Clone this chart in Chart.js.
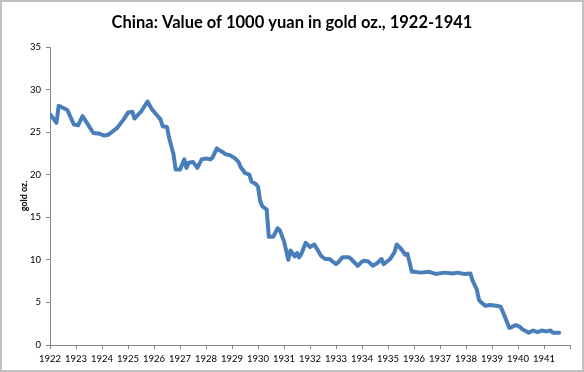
<!DOCTYPE html>
<html>
<head>
<meta charset="utf-8">
<title>China: Value of 1000 yuan in gold oz., 1922-1941</title>
<script src="https://cdn.jsdelivr.net/npm/chart.js@4/dist/chart.umd.min.js"></script>
<style>
    html, body { margin: 0; padding: 0; background: #fff; }
    #wrap { width: 584px; height: 372px; position: relative; }
</style>
</head>
<body>
<div id="wrap"><canvas id="goldChart" width="584" height="372"></canvas></div>
<script>
// Chart data
const chartTitle = "China: Value of 1000 yuan in gold oz., 1922-1941";
const yAxisTitle = "gold oz.";
const yearLabels = [1922, 1923, 1924, 1925, 1926, 1927, 1928, 1929, 1930, 1931,
    1932, 1933, 1934, 1935, 1936, 1937, 1938, 1939, 1940, 1941];
const yTicks = [0, 5, 10, 15, 20, 25, 30, 35];

const months = [
    "1922-01", "1922-04", "1922-05", "1922-09", "1922-12", "1923-02", "1923-04", "1923-05", "1923-09", "1923-12",
    "1924-02", "1924-04", "1924-06", "1924-08", "1924-11", "1925-01", "1925-03", "1925-04", "1925-07", "1925-08",
    "1925-10", "1925-12", "1926-02", "1926-04", "1926-05", "1926-07", "1926-08", "1926-10", "1926-11", "1927-01",
    "1927-03", "1927-04", "1927-05", "1927-07", "1927-09", "1927-11", "1928-01", "1928-03", "1928-04", "1928-06",
    "1928-07", "1928-09", "1928-10", "1928-12", "1929-02", "1929-04", "1929-05", "1929-07", "1929-09", "1929-10",
    "1929-12", "1930-01", "1930-02", "1930-03", "1930-05", "1930-06", "1930-08", "1930-10", "1930-11", "1931-01",
    "1931-03", "1931-04", "1931-06", "1931-07", "1931-08", "1931-09", "1931-11", "1932-01", "1932-03", "1932-04",
    "1932-06", "1932-08", "1932-10", "1933-01", "1933-02", "1933-04", "1933-07", "1933-08", "1933-11", "1934-01",
    "1934-02", "1934-04", "1934-06", "1934-08", "1934-10", "1934-11", "1935-02", "1935-04", "1935-05", "1935-07",
    "1935-09", "1935-10", "1935-12", "1936-01", "1936-04", "1936-08", "1936-11", "1937-03", "1937-07", "1937-09",
    "1937-12", "1938-03", "1938-04", "1938-06", "1938-07", "1938-08", "1938-10", "1938-12", "1939-03", "1939-05",
    "1939-07", "1939-09", "1939-10", "1939-12", "1940-02", "1940-03", "1940-06", "1940-08", "1940-10", "1940-12",
    "1941-02", "1941-04", "1941-05", "1941-08"
];

const goldOz = [
    27.1, 26.1, 28.1, 27.6, 25.9, 25.8, 26.9, 26.5, 24.9, 24.8,
    24.6, 24.7, 25.1, 25.5, 26.5, 27.3, 27.4, 26.6, 27.4, 27.8,
    28.6, 27.7, 27.1, 26.5, 25.7, 25.6, 24.3, 22.4, 20.6, 20.6,
    21.8, 20.8, 21.4, 21.5, 20.8, 21.8, 21.9, 21.8, 22.0, 23.1,
    22.9, 22.6, 22.4, 22.3, 22.0, 21.5, 20.9, 20.2, 20.0, 19.2,
    18.9, 18.6, 16.9, 16.3, 15.9, 12.7, 12.7, 13.7, 13.5, 12.2,
    10.0, 11.1, 10.4, 10.8, 10.3, 10.7, 12.0, 11.5, 11.8, 11.4,
    10.5, 10.1, 10.1, 9.5, 9.7, 10.3, 10.3, 10.1, 9.3, 9.8,
    9.9, 9.8, 9.3, 9.6, 10.1, 9.5, 10.1, 10.9, 11.8, 11.3,
    10.6, 10.7, 8.6, 8.6, 8.5, 8.6, 8.35, 8.5, 8.4, 8.5,
    8.35, 8.4, 7.6, 6.5, 5.3, 5.0, 4.6, 4.7, 4.6, 4.5,
    3.3, 2.0, 2.1, 2.35, 2.1, 1.85, 1.45, 1.7, 1.5, 1.7,
    1.6, 1.7, 1.45, 1.45
];

// "YYYY-MM" -> decimal year, so the x scale places each month
function monthToYear(m) {
    const parts = m.split("-");
    return Number(parts[0]) + (Number(parts[1]) - 1) / 12;
}

const points = months.map((m, i) => ({ x: monthToYear(m), y: goldOz[i] }));

const axisGray = "#868686";
const fontFamily = "Lato, 'Open Sans', sans-serif";
const tickFont = { family: fontFamily, size: 9.5 };

// Title centred on the whole picture + gray frame round it
const titleFramePlugin = {
    id: "titleFrame",
    afterDraw(chart) {
        const ctx = chart.ctx;
        ctx.save();
        ctx.fillStyle = "#000";
        ctx.font = "bold 16.5px " + fontFamily;
        ctx.textAlign = "center";
        ctx.textBaseline = "middle";
        ctx.fillText(chartTitle, chart.width / 2, 23);
        ctx.strokeStyle = "#c0c0c0";
        ctx.lineWidth = 2;
        ctx.strokeRect(1, 1, chart.width - 2, chart.height - 2);
        ctx.restore();
    }
};

new Chart(document.getElementById("goldChart"), {
    type: "line",
    data: {
        datasets: [{
            data: points,
            borderColor: "#4a7ebb",
            borderWidth: 4,
            borderJoinStyle: "round",
            borderCapStyle: "round",
            pointRadius: 0,
            tension: 0,
            fill: false
        }]
    },
    options: {
        responsive: false,
        animation: false,
        layout: { padding: { left: 0, right: 14, top: 47, bottom: 0 } },
        plugins: {
            legend: { display: false },
            tooltip: { enabled: false },
            title: { display: false }
        },
        scales: {
            x: {
                type: "linear",
                min: yearLabels[0],
                max: yearLabels[yearLabels.length - 1] + 1,
                afterBuildTicks: axis => {
                    axis.ticks = yearLabels.concat([yearLabels[yearLabels.length - 1] + 1]).map(v => ({ value: v }));
                },
                afterFit: axis => { axis.height = 27; },
                grid: { drawOnChartArea: false, color: axisGray, tickLength: 4 },
                border: { color: axisGray, width: 1 },
                ticks: {
                    color: "#000",
                    font: tickFont,
                    padding: 4,
                    maxRotation: 0,
                    autoSkip: false,
                    callback: v => (yearLabels.includes(v) ? String(v) : "")
                }
            },
            y: {
                min: yTicks[0],
                max: yTicks[yTicks.length - 1],
                afterBuildTicks: axis => { axis.ticks = yTicks.map(v => ({ value: v })); },
                afterFit: axis => { axis.width = 50; },
                grid: { drawOnChartArea: false, color: axisGray, tickLength: 4 },
                border: { color: axisGray, width: 1 },
                ticks: { color: "#000", font: tickFont, padding: 5 },
                title: {
                    display: true,
                    text: yAxisTitle,
                    color: "#000",
                    font: { family: fontFamily, size: 9, weight: "bold" },
                    padding: { top: 19, bottom: 0 }
                }
            }
        }
    },
    plugins: [titleFramePlugin]
});
</script>
</body>
</html>
